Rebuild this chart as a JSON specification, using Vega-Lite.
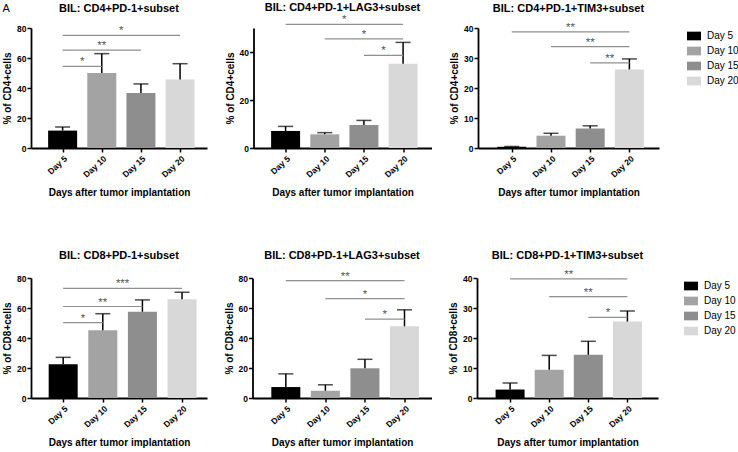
{
  "$schema": "https://vega.github.io/schema/vega-lite/v6.json",
  "padding": {"left": 2, "top": 2, "right": 0, "bottom": 0},
  "title": {"text": "A", "anchor": "start", "frame": "bounds", "offset": -12, "fontSize": 11, "fontWeight": "normal", "color": "black"},
  "config": {
    "view": {"stroke": null},
    "font": "Liberation Sans",
    "axis": {"domainColor": "black", "domainWidth": 1.8, "tickColor": "black", "tickWidth": 1.5, "tickSize": 4, "labelColor": "black", "labelFontWeight": "bold", "labelFontSize": 8.5, "labelPadding": 1, "labelOverlap": false, "titleFontWeight": "bold", "titleFontSize": 10, "titleColor": "black", "grid": false},
    "axisY": {"tickCount": 5},
    "axisX": {"labelAngle": -42, "labelPadding": 2, "titlePadding": 9, "labelFlush": false},
    "title": {"fontSize": 11, "fontWeight": "bold", "color": "black"},
    "legend": {"labelFontSize": 10, "labelColor": "black", "labelFontWeight": "normal"}
  },
  "datasets": {
    "bars": [
      {"panel": "p1", "day": 5, "group": "Day 5", "value": 11.6, "upper": 14.0},
      {"panel": "p1", "day": 10, "group": "Day 10", "value": 50.0, "upper": 62.9},
      {"panel": "p1", "day": 15, "group": "Day 15", "value": 36.7, "upper": 42.7},
      {"panel": "p1", "day": 20, "group": "Day 20", "value": 45.6, "upper": 56.2},
      {"panel": "p2", "day": 5, "group": "Day 5", "value": 7.1, "upper": 9.0},
      {"panel": "p2", "day": 10, "group": "Day 10", "value": 5.7, "upper": 6.4},
      {"panel": "p2", "day": 15, "group": "Day 15", "value": 9.6, "upper": 11.5},
      {"panel": "p2", "day": 20, "group": "Day 20", "value": 35.1, "upper": 44.0},
      {"panel": "p3", "day": 5, "group": "Day 5", "value": 0.4, "upper": 0.5},
      {"panel": "p3", "day": 10, "group": "Day 10", "value": 4.1, "upper": 4.9},
      {"panel": "p3", "day": 15, "group": "Day 15", "value": 6.5, "upper": 7.4},
      {"panel": "p3", "day": 20, "group": "Day 20", "value": 26.2, "upper": 29.7},
      {"panel": "p4", "day": 5, "group": "Day 5", "value": 22.5, "upper": 27.1},
      {"panel": "p4", "day": 10, "group": "Day 10", "value": 45.2, "upper": 56.2},
      {"panel": "p4", "day": 15, "group": "Day 15", "value": 57.5, "upper": 65.4},
      {"panel": "p4", "day": 20, "group": "Day 20", "value": 65.9, "upper": 70.5},
      {"panel": "p5", "day": 5, "group": "Day 5", "value": 7.3, "upper": 16.1},
      {"panel": "p5", "day": 10, "group": "Day 10", "value": 4.8, "upper": 8.8},
      {"panel": "p5", "day": 15, "group": "Day 15", "value": 19.8, "upper": 25.8},
      {"panel": "p5", "day": 20, "group": "Day 20", "value": 47.8, "upper": 58.8},
      {"panel": "p6", "day": 5, "group": "Day 5", "value": 2.8, "upper": 5.0},
      {"panel": "p6", "day": 10, "group": "Day 10", "value": 9.4, "upper": 14.2},
      {"panel": "p6", "day": 15, "group": "Day 15", "value": 14.4, "upper": 18.9},
      {"panel": "p6", "day": 20, "group": "Day 20", "value": 25.5, "upper": 29.0}
    ],
    "brackets": [
      {"panel": "p1", "cmp": "5-10", "day": 5, "level": 54.4, "stars": "*"},
      {"panel": "p1", "cmp": "5-10", "day": 10, "level": 54.4, "stars": "*"},
      {"panel": "p1", "cmp": "5-15", "day": 5, "level": 65.3, "stars": "**"},
      {"panel": "p1", "cmp": "5-15", "day": 15, "level": 65.3, "stars": "**"},
      {"panel": "p1", "cmp": "5-20", "day": 5, "level": 75.1, "stars": "*"},
      {"panel": "p1", "cmp": "5-20", "day": 20, "level": 75.1, "stars": "*"},
      {"panel": "p2", "cmp": "5-20", "day": 5, "level": 51.5, "stars": "*"},
      {"panel": "p2", "cmp": "5-20", "day": 20, "level": 51.5, "stars": "*"},
      {"panel": "p2", "cmp": "10-20", "day": 10, "level": 45.5, "stars": "*"},
      {"panel": "p2", "cmp": "10-20", "day": 20, "level": 45.5, "stars": "*"},
      {"panel": "p2", "cmp": "15-20", "day": 15, "level": 38.6, "stars": "*"},
      {"panel": "p2", "cmp": "15-20", "day": 20, "level": 38.6, "stars": "*"},
      {"panel": "p3", "cmp": "5-20", "day": 5, "level": 38.7, "stars": "**"},
      {"panel": "p3", "cmp": "5-20", "day": 20, "level": 38.7, "stars": "**"},
      {"panel": "p3", "cmp": "10-20", "day": 10, "level": 33.8, "stars": "**"},
      {"panel": "p3", "cmp": "10-20", "day": 20, "level": 33.8, "stars": "**"},
      {"panel": "p3", "cmp": "15-20", "day": 15, "level": 28.4, "stars": "**"},
      {"panel": "p3", "cmp": "15-20", "day": 20, "level": 28.4, "stars": "**"},
      {"panel": "p4", "cmp": "5-10", "day": 5, "level": 50.2, "stars": "*"},
      {"panel": "p4", "cmp": "5-10", "day": 10, "level": 50.2, "stars": "*"},
      {"panel": "p4", "cmp": "5-15", "day": 5, "level": 61.0, "stars": "**"},
      {"panel": "p4", "cmp": "5-15", "day": 15, "level": 61.0, "stars": "**"},
      {"panel": "p4", "cmp": "5-20", "day": 5, "level": 73.1, "stars": "***"},
      {"panel": "p4", "cmp": "5-20", "day": 20, "level": 73.1, "stars": "***"},
      {"panel": "p5", "cmp": "5-20", "day": 5, "level": 78.2, "stars": "**"},
      {"panel": "p5", "cmp": "5-20", "day": 20, "level": 78.2, "stars": "**"},
      {"panel": "p5", "cmp": "10-20", "day": 10, "level": 66.3, "stars": "*"},
      {"panel": "p5", "cmp": "10-20", "day": 20, "level": 66.3, "stars": "*"},
      {"panel": "p5", "cmp": "15-20", "day": 15, "level": 52.6, "stars": "*"},
      {"panel": "p5", "cmp": "15-20", "day": 20, "level": 52.6, "stars": "*"},
      {"panel": "p6", "cmp": "5-20", "day": 5, "level": 39.7, "stars": "**"},
      {"panel": "p6", "cmp": "5-20", "day": 20, "level": 39.7, "stars": "**"},
      {"panel": "p6", "cmp": "10-20", "day": 10, "level": 33.8, "stars": "**"},
      {"panel": "p6", "cmp": "10-20", "day": 20, "level": 33.8, "stars": "**"},
      {"panel": "p6", "cmp": "15-20", "day": 15, "level": 26.9, "stars": "*"},
      {"panel": "p6", "cmp": "15-20", "day": 20, "level": 26.9, "stars": "*"}
    ]
  },
  "resolve": {"scale": {"color": "independent"}},
  "spacing": 51,
  "vconcat": [
    {
      "spacing": 46.5,
      "bounds": "flush",
      "resolve": {"scale": {"color": "independent"}},
      "hconcat": [
        {
          "width": 176, "height": 120,
          "title": {"text": "BIL: CD4+PD-1+subset", "offset": 10.5},
          "layer": [
            {"data": {"name": "bars"}, "transform": [{"filter": "datum.panel === 'p1'"}],
             "mark": {"type": "bar", "orient": "vertical", "width": 29},
             "encoding": {
               "x": {"field": "day", "type": "quantitative", "scale": {"domain": [1.60, 22.80], "nice": false, "zero": false}, "axis": {"values": [5, 10, 15, 20], "labelExpr": "'Day ' + datum.value", "title": "Days after tumor implantation"}},
               "y": {"field": "value", "type": "quantitative", "scale": {"domain": [0, 80], "nice": false}, "axis": {"values": [0, 20, 40, 60, 80], "tickCount": 5, "labelOverlap": false, "title": "% of CD4+cells"}},
               "color": {"field": "group", "type": "nominal", "scale": {"domain": ["Day 5", "Day 10", "Day 15", "Day 20"], "range": ["#000000", "#a3a3a3", "#8e8e8e", "#d8d8d8"]}, "legend": null}
             }},
            {"data": {"name": "bars"}, "transform": [{"filter": "datum.panel === 'p1'"}],
             "mark": {"type": "rule", "color": "black", "strokeWidth": 1.5},
             "encoding": {"x": {"field": "day", "type": "quantitative"}, "y": {"field": "value", "type": "quantitative"}, "y2": {"field": "upper"}}},
            {"data": {"name": "bars"}, "transform": [{"filter": "datum.panel === 'p1'"}],
             "mark": {"type": "tick", "orient": "horizontal", "size": 15, "thickness": 1.5, "color": "black"},
             "encoding": {"x": {"field": "day", "type": "quantitative"}, "y": {"field": "upper", "type": "quantitative"}}},
            {"data": {"name": "brackets"}, "transform": [{"filter": "datum.panel === 'p1'"}],
             "mark": {"type": "rule", "color": "#8f8f8f", "strokeWidth": 1.2},
             "encoding": {"x": {"field": "day", "aggregate": "min", "type": "quantitative"}, "x2": {"field": "day", "aggregate": "max"}, "y": {"field": "level", "type": "quantitative"}, "detail": {"field": "cmp"}}},
            {"data": {"name": "brackets"}, "transform": [{"filter": "datum.panel === 'p1'"}],
             "mark": {"type": "text", "fontSize": 11.5, "dy": -1, "baseline": "alphabetic", "align": "center", "color": "#555555"},
             "encoding": {"x": {"field": "day", "aggregate": "mean", "type": "quantitative"}, "y": {"field": "level", "type": "quantitative"}, "text": {"field": "stars"}, "detail": {"field": "cmp"}}}
          ]
        },
        {
          "width": 178, "height": 120,
          "title": {"text": "BIL: CD4+PD-1+LAG3+subset", "offset": 1},
          "layer": [
            {"data": {"name": "bars"}, "transform": [{"filter": "datum.panel === 'p2'"}],
             "mark": {"type": "bar", "orient": "vertical", "width": 29},
             "encoding": {
               "x": {"field": "day", "type": "quantitative", "scale": {"domain": [1.54, 22.99], "nice": false, "zero": false}, "axis": {"values": [5, 10, 15, 20], "labelExpr": "'Day ' + datum.value", "title": "Days after tumor implantation"}},
               "y": {"field": "value", "type": "quantitative", "scale": {"domain": [0, 50], "nice": false}, "axis": {"values": [0, 10, 20, 30, 40, 50], "tickCount": 5, "labelOverlap": false, "title": "% of CD4+cells"}},
               "color": {"field": "group", "type": "nominal", "scale": {"domain": ["Day 5", "Day 10", "Day 15", "Day 20"], "range": ["#000000", "#a3a3a3", "#8e8e8e", "#d8d8d8"]}, "legend": null}
             }},
            {"data": {"name": "bars"}, "transform": [{"filter": "datum.panel === 'p2'"}],
             "mark": {"type": "rule", "color": "black", "strokeWidth": 1.5},
             "encoding": {"x": {"field": "day", "type": "quantitative"}, "y": {"field": "value", "type": "quantitative"}, "y2": {"field": "upper"}}},
            {"data": {"name": "bars"}, "transform": [{"filter": "datum.panel === 'p2'"}],
             "mark": {"type": "tick", "orient": "horizontal", "size": 15, "thickness": 1.5, "color": "black"},
             "encoding": {"x": {"field": "day", "type": "quantitative"}, "y": {"field": "upper", "type": "quantitative"}}},
            {"data": {"name": "brackets"}, "transform": [{"filter": "datum.panel === 'p2'"}],
             "mark": {"type": "rule", "color": "#8f8f8f", "strokeWidth": 1.2},
             "encoding": {"x": {"field": "day", "aggregate": "min", "type": "quantitative"}, "x2": {"field": "day", "aggregate": "max"}, "y": {"field": "level", "type": "quantitative"}, "detail": {"field": "cmp"}}},
            {"data": {"name": "brackets"}, "transform": [{"filter": "datum.panel === 'p2'"}],
             "mark": {"type": "text", "fontSize": 11.5, "dy": -1, "baseline": "alphabetic", "align": "center", "color": "#555555"},
             "encoding": {"x": {"field": "day", "aggregate": "mean", "type": "quantitative"}, "y": {"field": "level", "type": "quantitative"}, "text": {"field": "stars"}, "detail": {"field": "cmp"}}}
          ]
        },
        {
          "width": 181, "height": 120,
          "title": {"text": "BIL: CD4+PD-1+TIM3+subset", "offset": 8, "frame": "group"},
          "layer": [
            {"data": {"name": "bars"}, "transform": [{"filter": "datum.panel === 'p3'"}],
             "mark": {"type": "bar", "orient": "vertical", "width": 29},
             "encoding": {
               "x": {"field": "day", "type": "quantitative", "scale": {"domain": [1.33, 23.14], "nice": false, "zero": false}, "axis": {"values": [5, 10, 15, 20], "labelExpr": "'Day ' + datum.value", "title": "Days after tumor implantation"}},
               "y": {"field": "value", "type": "quantitative", "scale": {"domain": [0, 40], "nice": false}, "axis": {"values": [0, 10, 20, 30, 40], "tickCount": 5, "labelOverlap": false, "title": "% of CD4+cells"}},
               "color": {"field": "group", "type": "nominal", "scale": {"domain": ["Day 5", "Day 10", "Day 15", "Day 20"], "range": ["#000000", "#a3a3a3", "#8e8e8e", "#d8d8d8"]},
                 "legend": {"orient": "none", "legendX": 209, "legendY": 1, "title": null, "symbolType": "M-1,-0.62H1V0.62H-1Z", "symbolSize": 196, "symbolStrokeWidth": 0, "rowPadding": 3, "labelOffset": 6, "padding": 0}}
             }},
            {"data": {"name": "bars"}, "transform": [{"filter": "datum.panel === 'p3'"}],
             "mark": {"type": "rule", "color": "black", "strokeWidth": 1.5},
             "encoding": {"x": {"field": "day", "type": "quantitative"}, "y": {"field": "value", "type": "quantitative"}, "y2": {"field": "upper"}}},
            {"data": {"name": "bars"}, "transform": [{"filter": "datum.panel === 'p3'"}],
             "mark": {"type": "tick", "orient": "horizontal", "size": 15, "thickness": 1.5, "color": "black"},
             "encoding": {"x": {"field": "day", "type": "quantitative"}, "y": {"field": "upper", "type": "quantitative"}}},
            {"data": {"name": "brackets"}, "transform": [{"filter": "datum.panel === 'p3'"}],
             "mark": {"type": "rule", "color": "#8f8f8f", "strokeWidth": 1.2},
             "encoding": {"x": {"field": "day", "aggregate": "min", "type": "quantitative"}, "x2": {"field": "day", "aggregate": "max"}, "y": {"field": "level", "type": "quantitative"}, "detail": {"field": "cmp"}}},
            {"data": {"name": "brackets"}, "transform": [{"filter": "datum.panel === 'p3'"}],
             "mark": {"type": "text", "fontSize": 11.5, "dy": -1, "baseline": "alphabetic", "align": "center", "color": "#555555"},
             "encoding": {"x": {"field": "day", "aggregate": "mean", "type": "quantitative"}, "y": {"field": "level", "type": "quantitative"}, "text": {"field": "stars"}, "detail": {"field": "cmp"}}}
          ]
        }
      ]
    },
    {
      "spacing": 45.5,
      "bounds": "flush",
      "resolve": {"scale": {"color": "independent"}},
      "hconcat": [
        {
          "width": 176, "height": 120,
          "title": {"text": "BIL: CD8+PD-1+subset", "offset": 13.5},
          "layer": [
            {"data": {"name": "bars"}, "transform": [{"filter": "datum.panel === 'p4'"}],
             "mark": {"type": "bar", "orient": "vertical", "width": 29},
             "encoding": {
               "x": {"field": "day", "type": "quantitative", "scale": {"domain": [1.57, 22.52], "nice": false, "zero": false}, "axis": {"values": [5, 10, 15, 20], "labelExpr": "'Day ' + datum.value", "title": "Days after tumor implantation"}},
               "y": {"field": "value", "type": "quantitative", "scale": {"domain": [0, 80], "nice": false}, "axis": {"values": [0, 20, 40, 60, 80], "tickCount": 5, "labelOverlap": false, "title": "% of CD8+cells"}},
               "color": {"field": "group", "type": "nominal", "scale": {"domain": ["Day 5", "Day 10", "Day 15", "Day 20"], "range": ["#000000", "#a3a3a3", "#8e8e8e", "#d8d8d8"]}, "legend": null}
             }},
            {"data": {"name": "bars"}, "transform": [{"filter": "datum.panel === 'p4'"}],
             "mark": {"type": "rule", "color": "black", "strokeWidth": 1.5},
             "encoding": {"x": {"field": "day", "type": "quantitative"}, "y": {"field": "value", "type": "quantitative"}, "y2": {"field": "upper"}}},
            {"data": {"name": "bars"}, "transform": [{"filter": "datum.panel === 'p4'"}],
             "mark": {"type": "tick", "orient": "horizontal", "size": 15, "thickness": 1.5, "color": "black"},
             "encoding": {"x": {"field": "day", "type": "quantitative"}, "y": {"field": "upper", "type": "quantitative"}}},
            {"data": {"name": "brackets"}, "transform": [{"filter": "datum.panel === 'p4'"}],
             "mark": {"type": "rule", "color": "#8f8f8f", "strokeWidth": 1.2},
             "encoding": {"x": {"field": "day", "aggregate": "min", "type": "quantitative"}, "x2": {"field": "day", "aggregate": "max"}, "y": {"field": "level", "type": "quantitative"}, "detail": {"field": "cmp"}}},
            {"data": {"name": "brackets"}, "transform": [{"filter": "datum.panel === 'p4'"}],
             "mark": {"type": "text", "fontSize": 11.5, "dy": -1, "baseline": "alphabetic", "align": "center", "color": "#555555"},
             "encoding": {"x": {"field": "day", "aggregate": "mean", "type": "quantitative"}, "y": {"field": "level", "type": "quantitative"}, "text": {"field": "stars"}, "detail": {"field": "cmp"}}}
          ]
        },
        {
          "width": 179, "height": 120,
          "title": {"text": "BIL: CD8+PD-1+LAG3+subset", "offset": 10},
          "layer": [
            {"data": {"name": "bars"}, "transform": [{"filter": "datum.panel === 'p5'"}],
             "mark": {"type": "bar", "orient": "vertical", "width": 29},
             "encoding": {
               "x": {"field": "day", "type": "quantitative", "scale": {"domain": [1.42, 22.78], "nice": false, "zero": false}, "axis": {"values": [5, 10, 15, 20], "labelExpr": "'Day ' + datum.value", "title": "Days after tumor implantation"}},
               "y": {"field": "value", "type": "quantitative", "scale": {"domain": [0, 80], "nice": false}, "axis": {"values": [0, 20, 40, 60, 80], "tickCount": 5, "labelOverlap": false, "title": "% of CD8+cells"}},
               "color": {"field": "group", "type": "nominal", "scale": {"domain": ["Day 5", "Day 10", "Day 15", "Day 20"], "range": ["#000000", "#a3a3a3", "#8e8e8e", "#d8d8d8"]}, "legend": null}
             }},
            {"data": {"name": "bars"}, "transform": [{"filter": "datum.panel === 'p5'"}],
             "mark": {"type": "rule", "color": "black", "strokeWidth": 1.5},
             "encoding": {"x": {"field": "day", "type": "quantitative"}, "y": {"field": "value", "type": "quantitative"}, "y2": {"field": "upper"}}},
            {"data": {"name": "bars"}, "transform": [{"filter": "datum.panel === 'p5'"}],
             "mark": {"type": "tick", "orient": "horizontal", "size": 15, "thickness": 1.5, "color": "black"},
             "encoding": {"x": {"field": "day", "type": "quantitative"}, "y": {"field": "upper", "type": "quantitative"}}},
            {"data": {"name": "brackets"}, "transform": [{"filter": "datum.panel === 'p5'"}],
             "mark": {"type": "rule", "color": "#8f8f8f", "strokeWidth": 1.2},
             "encoding": {"x": {"field": "day", "aggregate": "min", "type": "quantitative"}, "x2": {"field": "day", "aggregate": "max"}, "y": {"field": "level", "type": "quantitative"}, "detail": {"field": "cmp"}}},
            {"data": {"name": "brackets"}, "transform": [{"filter": "datum.panel === 'p5'"}],
             "mark": {"type": "text", "fontSize": 11.5, "dy": -1, "baseline": "alphabetic", "align": "center", "color": "#555555"},
             "encoding": {"x": {"field": "day", "aggregate": "mean", "type": "quantitative"}, "y": {"field": "level", "type": "quantitative"}, "text": {"field": "stars"}, "detail": {"field": "cmp"}}}
          ]
        },
        {
          "width": 181, "height": 120,
          "title": {"text": "BIL: CD8+PD-1+TIM3+subset", "offset": 8, "frame": "group"},
          "layer": [
            {"data": {"name": "bars"}, "transform": [{"filter": "datum.panel === 'p6'"}],
             "mark": {"type": "bar", "orient": "vertical", "width": 29},
             "encoding": {
               "x": {"field": "day", "type": "quantitative", "scale": {"domain": [1.41, 23.27], "nice": false, "zero": false}, "axis": {"values": [5, 10, 15, 20], "labelExpr": "'Day ' + datum.value", "title": "Days after tumor implantation"}},
               "y": {"field": "value", "type": "quantitative", "scale": {"domain": [0, 40], "nice": false}, "axis": {"values": [0, 10, 20, 30, 40], "tickCount": 5, "labelOverlap": false, "title": "% of CD8+cells"}},
               "color": {"field": "group", "type": "nominal", "scale": {"domain": ["Day 5", "Day 10", "Day 15", "Day 20"], "range": ["#000000", "#a3a3a3", "#8e8e8e", "#d8d8d8"]},
                 "legend": {"orient": "none", "legendX": 207, "legendY": 1, "title": null, "symbolType": "M-1,-0.62H1V0.62H-1Z", "symbolSize": 196, "symbolStrokeWidth": 0, "rowPadding": 3, "labelOffset": 6, "padding": 0}}
             }},
            {"data": {"name": "bars"}, "transform": [{"filter": "datum.panel === 'p6'"}],
             "mark": {"type": "rule", "color": "black", "strokeWidth": 1.5},
             "encoding": {"x": {"field": "day", "type": "quantitative"}, "y": {"field": "value", "type": "quantitative"}, "y2": {"field": "upper"}}},
            {"data": {"name": "bars"}, "transform": [{"filter": "datum.panel === 'p6'"}],
             "mark": {"type": "tick", "orient": "horizontal", "size": 15, "thickness": 1.5, "color": "black"},
             "encoding": {"x": {"field": "day", "type": "quantitative"}, "y": {"field": "upper", "type": "quantitative"}}},
            {"data": {"name": "brackets"}, "transform": [{"filter": "datum.panel === 'p6'"}],
             "mark": {"type": "rule", "color": "#8f8f8f", "strokeWidth": 1.2},
             "encoding": {"x": {"field": "day", "aggregate": "min", "type": "quantitative"}, "x2": {"field": "day", "aggregate": "max"}, "y": {"field": "level", "type": "quantitative"}, "detail": {"field": "cmp"}}},
            {"data": {"name": "brackets"}, "transform": [{"filter": "datum.panel === 'p6'"}],
             "mark": {"type": "text", "fontSize": 11.5, "dy": -1, "baseline": "alphabetic", "align": "center", "color": "#555555"},
             "encoding": {"x": {"field": "day", "aggregate": "mean", "type": "quantitative"}, "y": {"field": "level", "type": "quantitative"}, "text": {"field": "stars"}, "detail": {"field": "cmp"}}}
          ]
        }
      ]
    }
  ]
}
